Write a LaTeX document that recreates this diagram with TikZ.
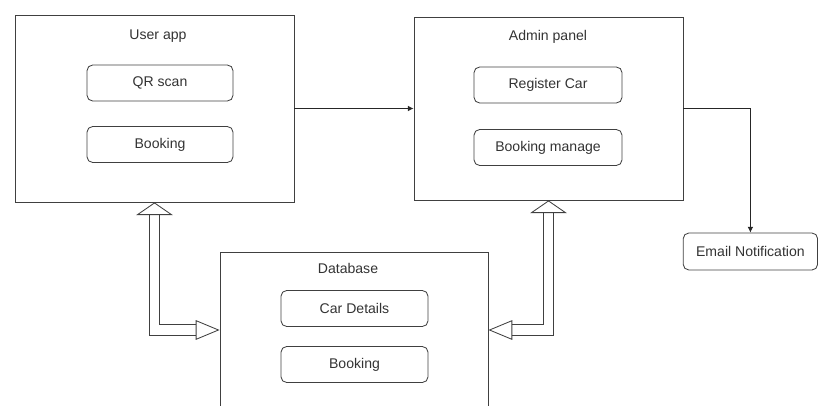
\documentclass[tikz,border=0pt]{standalone}
\usepackage{fontspec}
\setmainfont{Liberation Sans}
\usetikzlibrary{arrows.meta}
\begin{document}
\begin{tikzpicture}[
    font=\fontsize{10}{12}\selectfont,
    every node/.style={text=black!80},
    frame/.style={draw=black!75, line width=0.6pt, inner sep=0pt},
    item/.style={draw=black!75, line width=0.6pt, rounded corners=4pt,
      minimum width=3.65cm, minimum height=0.9cm},
    flex/.style={draw=black!75, line width=0.6pt, double=white, double distance=7pt,
      {Triangle[open, line width=0.6pt, width=26pt, length=9pt]}-{Triangle[open, line width=0.6pt, width=14pt, length=17pt]}},
    link/.style={draw=black!85, line width=0.6pt, -{Latex[length=4pt, width=4pt]}}
  ]
  \clip (0,0) rectangle (20.45,10.125);
  \draw
    (3.8625,7.4125) node[frame, minimum width=6.975cm, minimum height=4.675cm] (ua){}
    (3.95,9.225) node (uatitle){User app}
    (4.0,8.05) node[item] (qr){QR scan}
    (4.0,6.5125) node[item] (ubook){Booking}
    (13.7125,7.4125) node[frame, minimum width=6.725cm, minimum height=4.575cm] (ap){}
    (13.7,9.2) node (aptitle){Admin panel}
    (13.7,8.0) node[item, minimum width=3.7cm] (reg){Register Car}
    (13.7,6.4375) node[item, minimum width=3.7cm] (manage){Booking manage}
    (8.85,1.875) node[frame, minimum width=6.7cm, minimum height=3.9cm] (db){}
    (8.7,3.425) node (dbtitle){Database}
    (8.8625,2.4125) node[item, minimum width=3.675cm] (car){Car Details}
    (8.8625,1.0125) node[item, minimum width=3.675cm] (dbook){Booking}
    (18.76,3.8375) node[item, minimum width=3.36cm, minimum height=0.925cm] (email){Email Notification};
  \begin{scope}[link]
    \draw (ua.east) to (ap.west);
    \draw (ap.east) -| (email.north);
  \end{scope}
  \draw[flex] (ua.south) |- (db.west);
  \draw[flex] (ap.south) |- (db.east);
\end{tikzpicture}
\end{document}
